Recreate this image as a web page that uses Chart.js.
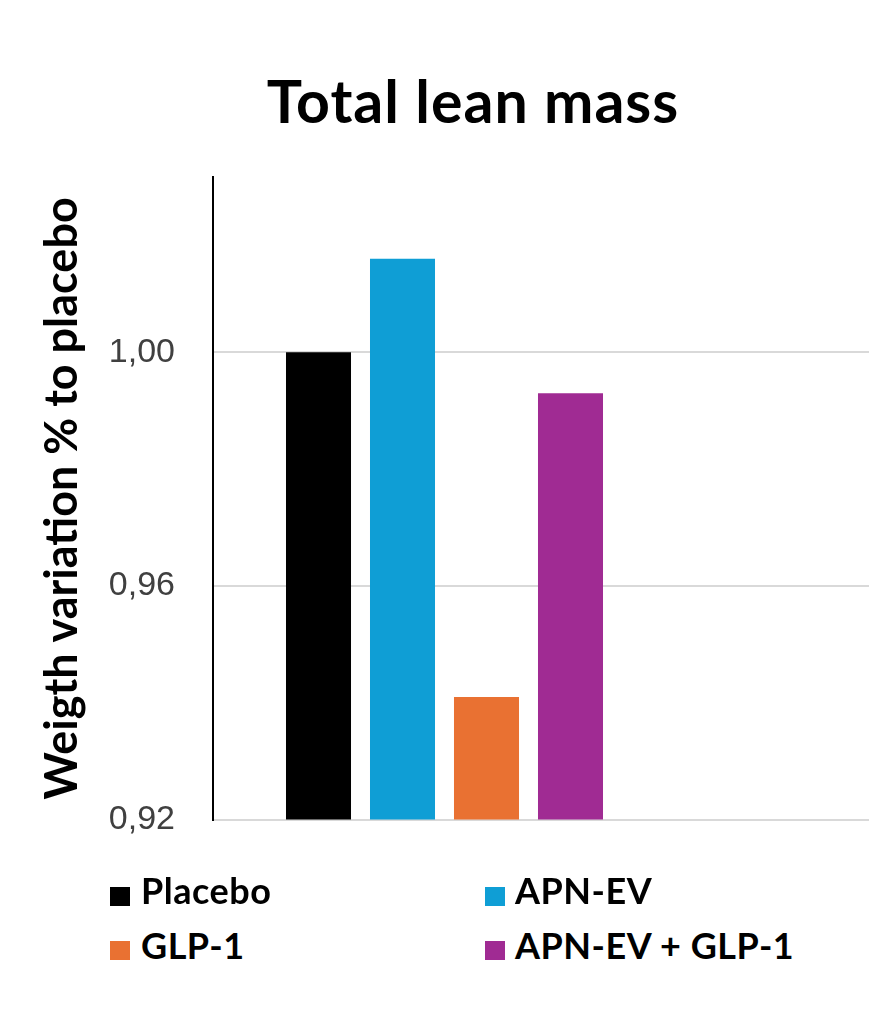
<!DOCTYPE html>
<html>
<head>
<meta charset="utf-8">
<script src="https://cdn.jsdelivr.net/npm/chart.js@4.4.1/dist/chart.umd.min.js"></script>
<style>
  html, body { margin: 0; padding: 0; background: #ffffff; }
  body { width: 869px; height: 1024px; overflow: hidden; position: relative; }
  #wrap { position: absolute; left: 0; top: 0; width: 1139px; height: 878px; }
  #title {
    position: absolute; left: 0; width: 946px; top: 66px;
    text-align: center; font-family: Lato, "Open Sans", sans-serif; font-weight: 700;
    font-size: 59px; line-height: 70px; letter-spacing: 1px; color: #000;
  }
  .lg-box { position: absolute; width: 20px; height: 19px; }
  .lg-text {
    position: absolute; font-family: Lato, "Open Sans", sans-serif; font-weight: 700;
    font-size: 36px; line-height: 43px; letter-spacing: 0.5px; color: #000; white-space: nowrap;
  }
</style>
</head>
<body>
<div id="title">Total lean mass</div>
<div id="wrap"><canvas id="chart" width="1139" height="878"></canvas></div>
<div id="legend"></div>
<script>
// ---- data ----
const categories = ['', ''];
const seriesNames = ['Placebo', 'APN-EV', 'GLP-1', 'APN-EV + GLP-1'];
const placebo = [1.000, null];
const apnEv = [1.016, null];
const glp1 = [0.941, null];
const apnEvGlp1 = [0.993, null];
const tickValues = [0.92, 0.96, 1.00];
const yTitle = 'Weigth variation % to placebo';

const seriesValues = [placebo, apnEv, glp1, apnEvGlp1];
const colors = ['#000000', '#0F9ED5', '#E97132', '#A02B93'];

const datasets = seriesNames.map((name, i) => ({
  label: name,
  data: seriesValues[i],
  backgroundColor: colors[i],
  borderWidth: 0,
  categoryPercentage: 0.7257,
  barPercentage: 0.774
}));

new Chart(document.getElementById('chart'), {
  type: 'bar',
  data: { labels: categories, datasets },
  options: {
    responsive: false,
    animation: false,
    devicePixelRatio: 1,
    layout: { padding: { top: 177, right: 0, bottom: 10, left: 0 } },
    plugins: { legend: { display: false }, title: { display: false }, tooltip: { enabled: false } },
    scales: {
      x: {
        grid: { display: false, drawTicks: false },
        border: { display: false },
        ticks: { display: false },
        afterFit: (s) => { s.height = 0; }
      },
      y: {
        min: 0.92,
        max: 1.03,
        afterFit: (s) => { s.width = 213; },
        afterBuildTicks: (s) => { s.ticks = tickValues.map(v => ({ value: v })); },
        grid: { color: '#D9D9D9', lineWidth: 2, drawTicks: false },
        border: { display: true, color: '#000000', width: 2 },
        ticks: {
          padding: 38,
          color: '#404040',
          font: { family: '"Liberation Sans", Arial, sans-serif', size: 34 },
          callback: (v) => Number(v).toFixed(2).replace('.', ',')
        },
        title: {
          display: true,
          text: yTitle,
          color: '#000000',
          font: { family: 'Lato, "Open Sans", sans-serif', size: 45, weight: 'bold', lineHeight: 1.2 },
          padding: { top: 35, bottom: 0 }
        }
      }
    }
  }
});

// ---- legend (built from series arrays) ----
const legendPos = [
  { box: [110, 887], text: [141, 869] },
  { box: [485, 887], text: [515, 869] },
  { box: [110, 941], text: [141, 924] },
  { box: [485, 941], text: [515, 924] }
];
const legend = document.getElementById('legend');
seriesNames.forEach((name, i) => {
  const b = document.createElement('div');
  b.className = 'lg-box';
  b.style.left = legendPos[i].box[0] + 'px';
  b.style.top = legendPos[i].box[1] + 'px';
  b.style.background = colors[i];
  legend.appendChild(b);
  const t = document.createElement('div');
  t.className = 'lg-text';
  t.style.left = legendPos[i].text[0] + 'px';
  t.style.top = legendPos[i].text[1] + 'px';
  t.textContent = name;
  legend.appendChild(t);
});
</script>
</body>
</html>
